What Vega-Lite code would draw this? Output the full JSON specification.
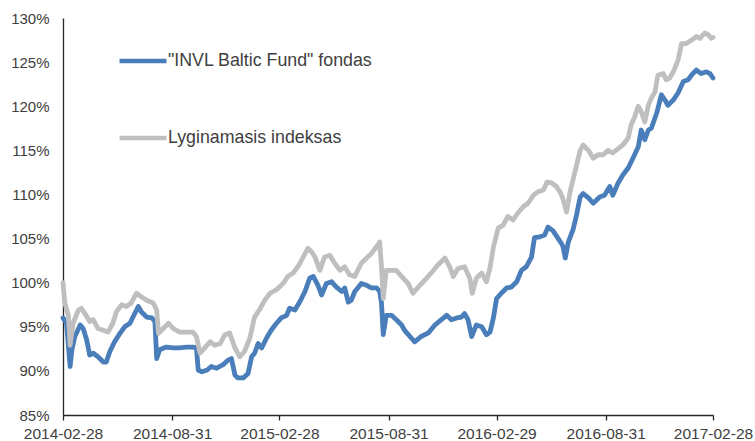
{
  "$schema": "https://vega.github.io/schema/vega-lite/v6.json",
  "width": 650,
  "height": 397,
  "autosize": "none",
  "padding": {"left": 63, "top": 18, "right": 42, "bottom": 26},
  "background": "white",
  "config": {
    "view": {"stroke": null},
    "font": "Liberation Sans"
  },
  "data": {"values": [
{"series":"fund","date":"2014-02-28","value":96.0},{"series":"fund","date":"2014-03-06","value":95.4},{"series":"fund","date":"2014-03-12","value":90.5},{"series":"fund","date":"2014-03-15","value":92.4},{"series":"fund","date":"2014-03-20","value":93.9},{"series":"fund","date":"2014-03-29","value":95.2},{"series":"fund","date":"2014-04-03","value":94.8},{"series":"fund","date":"2014-04-09","value":93.5},{"series":"fund","date":"2014-04-14","value":91.8},{"series":"fund","date":"2014-04-20","value":92.0},{"series":"fund","date":"2014-04-28","value":91.6},{"series":"fund","date":"2014-05-07","value":91.0},{"series":"fund","date":"2014-05-12","value":91.0},{"series":"fund","date":"2014-05-18","value":92.2},{"series":"fund","date":"2014-05-26","value":93.3},{"series":"fund","date":"2014-06-04","value":94.25},{"series":"fund","date":"2014-06-12","value":95.0},{"series":"fund","date":"2014-06-21","value":95.4},{"series":"fund","date":"2014-06-26","value":96.1},{"series":"fund","date":"2014-07-05","value":97.3},{"series":"fund","date":"2014-07-10","value":96.7},{"series":"fund","date":"2014-07-19","value":96.1},{"series":"fund","date":"2014-07-28","value":96.0},{"series":"fund","date":"2014-08-02","value":95.6},{"series":"fund","date":"2014-08-05","value":91.4},{"series":"fund","date":"2014-08-10","value":92.4},{"series":"fund","date":"2014-08-21","value":92.7},{"series":"fund","date":"2014-09-02","value":92.6},{"series":"fund","date":"2014-09-13","value":92.6},{"series":"fund","date":"2014-09-24","value":92.7},{"series":"fund","date":"2014-10-05","value":92.7},{"series":"fund","date":"2014-10-11","value":92.6},{"series":"fund","date":"2014-10-14","value":90.1},{"series":"fund","date":"2014-10-20","value":89.9},{"series":"fund","date":"2014-10-29","value":90.1},{"series":"fund","date":"2014-11-05","value":90.5},{"series":"fund","date":"2014-11-14","value":90.3},{"series":"fund","date":"2014-11-25","value":90.7},{"series":"fund","date":"2014-12-03","value":91.2},{"series":"fund","date":"2014-12-09","value":91.4},{"series":"fund","date":"2014-12-15","value":89.5},{"series":"fund","date":"2014-12-20","value":89.2},{"series":"fund","date":"2014-12-29","value":89.2},{"series":"fund","date":"2015-01-06","value":89.7},{"series":"fund","date":"2015-01-12","value":91.6},{"series":"fund","date":"2015-01-17","value":92.0},{"series":"fund","date":"2015-01-23","value":93.1},{"series":"fund","date":"2015-01-29","value":92.6},{"series":"fund","date":"2015-02-06","value":93.7},{"series":"fund","date":"2015-02-14","value":94.6},{"series":"fund","date":"2015-02-23","value":95.4},{"series":"fund","date":"2015-03-03","value":96.0},{"series":"fund","date":"2015-03-12","value":96.3},{"series":"fund","date":"2015-03-17","value":97.1},{"series":"fund","date":"2015-03-26","value":96.9},{"series":"fund","date":"2015-04-03","value":97.8},{"series":"fund","date":"2015-04-12","value":99.0},{"series":"fund","date":"2015-04-20","value":100.5},{"series":"fund","date":"2015-04-26","value":100.7},{"series":"fund","date":"2015-05-04","value":99.7},{"series":"fund","date":"2015-05-10","value":98.6},{"series":"fund","date":"2015-05-18","value":99.9},{"series":"fund","date":"2015-05-27","value":100.1},{"series":"fund","date":"2015-06-04","value":99.5},{"series":"fund","date":"2015-06-13","value":99.0},{"series":"fund","date":"2015-06-18","value":99.4},{"series":"fund","date":"2015-06-24","value":97.8},{"series":"fund","date":"2015-06-29","value":98.0},{"series":"fund","date":"2015-07-05","value":99.0},{"series":"fund","date":"2015-07-10","value":99.4},{"series":"fund","date":"2015-07-16","value":99.9},{"series":"fund","date":"2015-07-25","value":99.7},{"series":"fund","date":"2015-08-02","value":99.4},{"series":"fund","date":"2015-08-11","value":99.4},{"series":"fund","date":"2015-08-16","value":99.0},{"series":"fund","date":"2015-08-19","value":97.7},{"series":"fund","date":"2015-08-22","value":94.1},{"series":"fund","date":"2015-08-27","value":96.3},{"series":"fund","date":"2015-09-05","value":96.3},{"series":"fund","date":"2015-09-13","value":95.8},{"series":"fund","date":"2015-09-22","value":95.2},{"series":"fund","date":"2015-09-27","value":94.6},{"series":"fund","date":"2015-10-06","value":93.9},{"series":"fund","date":"2015-10-14","value":93.3},{"series":"fund","date":"2015-10-25","value":93.9},{"series":"fund","date":"2015-11-06","value":94.3},{"series":"fund","date":"2015-11-17","value":95.2},{"series":"fund","date":"2015-11-28","value":95.8},{"series":"fund","date":"2015-12-07","value":96.3},{"series":"fund","date":"2015-12-15","value":95.8},{"series":"fund","date":"2015-12-24","value":96.0},{"series":"fund","date":"2016-01-01","value":96.1},{"series":"fund","date":"2016-01-06","value":96.5},{"series":"fund","date":"2016-01-12","value":95.8},{"series":"fund","date":"2016-01-18","value":93.9},{"series":"fund","date":"2016-01-26","value":95.2},{"series":"fund","date":"2016-02-04","value":95.0},{"series":"fund","date":"2016-02-12","value":94.1},{"series":"fund","date":"2016-02-18","value":94.4},{"series":"fund","date":"2016-02-24","value":96.1},{"series":"fund","date":"2016-02-29","value":98.2},{"series":"fund","date":"2016-03-08","value":98.8},{"series":"fund","date":"2016-03-17","value":99.4},{"series":"fund","date":"2016-03-25","value":99.5},{"series":"fund","date":"2016-04-03","value":100.1},{"series":"fund","date":"2016-04-11","value":101.4},{"series":"fund","date":"2016-04-19","value":101.8},{"series":"fund","date":"2016-04-28","value":102.9},{"series":"fund","date":"2016-05-03","value":105.1},{"series":"fund","date":"2016-05-12","value":105.2},{"series":"fund","date":"2016-05-20","value":105.4},{"series":"fund","date":"2016-05-26","value":106.3},{"series":"fund","date":"2016-06-03","value":105.9},{"series":"fund","date":"2016-06-12","value":105.0},{"series":"fund","date":"2016-06-17","value":104.5},{"series":"fund","date":"2016-06-20","value":104.1},{"series":"fund","date":"2016-06-24","value":102.8},{"series":"fund","date":"2016-06-29","value":104.6},{"series":"fund","date":"2016-07-07","value":106.0},{"series":"fund","date":"2016-07-13","value":107.7},{"series":"fund","date":"2016-07-19","value":109.7},{"series":"fund","date":"2016-07-24","value":110.1},{"series":"fund","date":"2016-08-02","value":109.6},{"series":"fund","date":"2016-08-10","value":109.0},{"series":"fund","date":"2016-08-21","value":109.7},{"series":"fund","date":"2016-08-29","value":109.9},{"series":"fund","date":"2016-09-07","value":110.9},{"series":"fund","date":"2016-09-12","value":109.9},{"series":"fund","date":"2016-09-21","value":111.3},{"series":"fund","date":"2016-09-29","value":112.2},{"series":"fund","date":"2016-10-08","value":113.0},{"series":"fund","date":"2016-10-16","value":114.1},{"series":"fund","date":"2016-10-25","value":115.4},{"series":"fund","date":"2016-10-30","value":117.3},{"series":"fund","date":"2016-11-05","value":116.2},{"series":"fund","date":"2016-11-11","value":117.3},{"series":"fund","date":"2016-11-16","value":117.5},{"series":"fund","date":"2016-11-25","value":119.2},{"series":"fund","date":"2016-12-03","value":121.3},{"series":"fund","date":"2016-12-09","value":120.7},{"series":"fund","date":"2016-12-14","value":120.1},{"series":"fund","date":"2016-12-23","value":120.7},{"series":"fund","date":"2016-12-31","value":121.5},{"series":"fund","date":"2017-01-09","value":122.8},{"series":"fund","date":"2017-01-17","value":123.0},{"series":"fund","date":"2017-01-25","value":123.7},{"series":"fund","date":"2017-01-31","value":124.1},{"series":"fund","date":"2017-02-08","value":123.7},{"series":"fund","date":"2017-02-17","value":123.9},{"series":"fund","date":"2017-02-23","value":123.7},{"series":"fund","date":"2017-02-28","value":123.2},
{"series":"index","date":"2014-02-28","value":100.0},{"series":"index","date":"2014-03-03","value":97.7},{"series":"index","date":"2014-03-09","value":96.3},{"series":"index","date":"2014-03-12","value":92.9},{"series":"index","date":"2014-03-17","value":95.4},{"series":"index","date":"2014-03-26","value":96.9},{"series":"index","date":"2014-03-31","value":97.1},{"series":"index","date":"2014-04-06","value":96.5},{"series":"index","date":"2014-04-14","value":95.6},{"series":"index","date":"2014-04-20","value":95.8},{"series":"index","date":"2014-04-28","value":94.8},{"series":"index","date":"2014-05-07","value":94.6},{"series":"index","date":"2014-05-15","value":94.4},{"series":"index","date":"2014-05-23","value":95.4},{"series":"index","date":"2014-05-29","value":96.7},{"series":"index","date":"2014-06-07","value":97.5},{"series":"index","date":"2014-06-15","value":97.3},{"series":"index","date":"2014-06-23","value":97.7},{"series":"index","date":"2014-07-02","value":98.8},{"series":"index","date":"2014-07-10","value":98.4},{"series":"index","date":"2014-07-19","value":98.0},{"series":"index","date":"2014-07-30","value":97.7},{"series":"index","date":"2014-08-05","value":96.9},{"series":"index","date":"2014-08-08","value":94.25},{"series":"index","date":"2014-08-16","value":94.8},{"series":"index","date":"2014-08-25","value":95.4},{"series":"index","date":"2014-09-02","value":94.8},{"series":"index","date":"2014-09-13","value":94.4},{"series":"index","date":"2014-09-24","value":94.4},{"series":"index","date":"2014-10-05","value":94.4},{"series":"index","date":"2014-10-11","value":93.9},{"series":"index","date":"2014-10-17","value":92.0},{"series":"index","date":"2014-10-26","value":92.7},{"series":"index","date":"2014-11-03","value":93.3},{"series":"index","date":"2014-11-11","value":92.9},{"series":"index","date":"2014-11-20","value":93.1},{"series":"index","date":"2014-11-28","value":94.1},{"series":"index","date":"2014-12-06","value":94.3},{"series":"index","date":"2014-12-15","value":92.6},{"series":"index","date":"2014-12-23","value":91.6},{"series":"index","date":"2014-12-31","value":92.2},{"series":"index","date":"2015-01-09","value":93.7},{"series":"index","date":"2015-01-17","value":96.1},{"series":"index","date":"2015-01-25","value":96.9},{"series":"index","date":"2015-02-03","value":98.0},{"series":"index","date":"2015-02-12","value":98.8},{"series":"index","date":"2015-02-23","value":99.2},{"series":"index","date":"2015-03-06","value":99.9},{"series":"index","date":"2015-03-14","value":100.7},{"series":"index","date":"2015-03-23","value":101.1},{"series":"index","date":"2015-03-31","value":101.8},{"series":"index","date":"2015-04-09","value":102.9},{"series":"index","date":"2015-04-17","value":103.9},{"series":"index","date":"2015-04-23","value":103.5},{"series":"index","date":"2015-04-29","value":102.9},{"series":"index","date":"2015-05-07","value":101.4},{"series":"index","date":"2015-05-15","value":102.9},{"series":"index","date":"2015-05-24","value":103.1},{"series":"index","date":"2015-06-01","value":102.2},{"series":"index","date":"2015-06-10","value":101.4},{"series":"index","date":"2015-06-18","value":101.8},{"series":"index","date":"2015-06-26","value":100.9},{"series":"index","date":"2015-07-05","value":100.7},{"series":"index","date":"2015-07-10","value":101.4},{"series":"index","date":"2015-07-16","value":102.2},{"series":"index","date":"2015-07-25","value":102.8},{"series":"index","date":"2015-08-02","value":103.3},{"series":"index","date":"2015-08-11","value":104.1},{"series":"index","date":"2015-08-16","value":104.6},{"series":"index","date":"2015-08-19","value":101.8},{"series":"index","date":"2015-08-22","value":98.2},{"series":"index","date":"2015-08-27","value":101.4},{"series":"index","date":"2015-09-05","value":101.4},{"series":"index","date":"2015-09-13","value":101.4},{"series":"index","date":"2015-09-22","value":100.7},{"series":"index","date":"2015-10-03","value":99.9},{"series":"index","date":"2015-10-11","value":98.8},{"series":"index","date":"2015-10-20","value":99.5},{"series":"index","date":"2015-10-31","value":100.3},{"series":"index","date":"2015-11-11","value":101.1},{"series":"index","date":"2015-11-22","value":102.0},{"series":"index","date":"2015-12-04","value":102.8},{"series":"index","date":"2015-12-12","value":101.8},{"series":"index","date":"2015-12-18","value":100.7},{"series":"index","date":"2015-12-26","value":101.6},{"series":"index","date":"2016-01-06","value":101.8},{"series":"index","date":"2016-01-15","value":100.5},{"series":"index","date":"2016-01-19","value":98.8},{"series":"index","date":"2016-01-26","value":100.5},{"series":"index","date":"2016-02-04","value":101.1},{"series":"index","date":"2016-02-12","value":100.1},{"series":"index","date":"2016-02-18","value":101.7},{"series":"index","date":"2016-02-24","value":104.1},{"series":"index","date":"2016-03-03","value":106.2},{"series":"index","date":"2016-03-11","value":106.5},{"series":"index","date":"2016-03-19","value":107.5},{"series":"index","date":"2016-03-28","value":107.1},{"series":"index","date":"2016-04-05","value":107.9},{"series":"index","date":"2016-04-14","value":108.6},{"series":"index","date":"2016-04-22","value":109.0},{"series":"index","date":"2016-05-01","value":109.9},{"series":"index","date":"2016-05-09","value":110.3},{"series":"index","date":"2016-05-18","value":110.5},{"series":"index","date":"2016-05-24","value":111.4},{"series":"index","date":"2016-06-01","value":111.3},{"series":"index","date":"2016-06-09","value":110.9},{"series":"index","date":"2016-06-15","value":110.3},{"series":"index","date":"2016-06-20","value":109.5},{"series":"index","date":"2016-06-26","value":108.0},{"series":"index","date":"2016-07-02","value":110.3},{"series":"index","date":"2016-07-10","value":112.5},{"series":"index","date":"2016-07-19","value":115.0},{"series":"index","date":"2016-07-24","value":115.6},{"series":"index","date":"2016-08-02","value":115.0},{"series":"index","date":"2016-08-10","value":114.1},{"series":"index","date":"2016-08-18","value":114.5},{"series":"index","date":"2016-08-27","value":114.5},{"series":"index","date":"2016-09-04","value":115.0},{"series":"index","date":"2016-09-12","value":114.7},{"series":"index","date":"2016-09-21","value":115.2},{"series":"index","date":"2016-09-29","value":115.6},{"series":"index","date":"2016-10-08","value":116.4},{"series":"index","date":"2016-10-13","value":117.9},{"series":"index","date":"2016-10-19","value":118.8},{"series":"index","date":"2016-10-25","value":120.0},{"series":"index","date":"2016-10-30","value":119.4},{"series":"index","date":"2016-11-05","value":118.2},{"series":"index","date":"2016-11-11","value":120.1},{"series":"index","date":"2016-11-16","value":120.9},{"series":"index","date":"2016-11-22","value":121.6},{"series":"index","date":"2016-11-27","value":123.5},{"series":"index","date":"2016-12-06","value":123.7},{"series":"index","date":"2016-12-11","value":123.0},{"series":"index","date":"2016-12-17","value":123.2},{"series":"index","date":"2016-12-23","value":123.9},{"series":"index","date":"2016-12-31","value":125.2},{"series":"index","date":"2017-01-06","value":127.1},{"series":"index","date":"2017-01-14","value":127.1},{"series":"index","date":"2017-01-23","value":127.5},{"series":"index","date":"2017-01-31","value":127.9},{"series":"index","date":"2017-02-06","value":127.7},{"series":"index","date":"2017-02-14","value":128.3},{"series":"index","date":"2017-02-20","value":128.1},{"series":"index","date":"2017-02-25","value":127.7},{"series":"index","date":"2017-02-28","value":127.8}
  ]},
  "encoding": {
    "x": {
      "field": "date", "type": "temporal", "title": null,
      "scale": {"type": "utc", "domain": [{"year": 2014, "month": 2, "date": 28, "utc": true}, {"year": 2017, "month": 2, "date": 28, "utc": true}], "nice": false},
      "axis": {
        "values": [
          {"year": 2014, "month": 2, "date": 28, "utc": true},
          {"year": 2014, "month": 8, "date": 31, "utc": true},
          {"year": 2015, "month": 2, "date": 28, "utc": true},
          {"year": 2015, "month": 8, "date": 31, "utc": true},
          {"year": 2016, "month": 2, "date": 29, "utc": true},
          {"year": 2016, "month": 8, "date": 31, "utc": true},
          {"year": 2017, "month": 2, "date": 28, "utc": true}
        ],
        "labelExpr": "utcFormat(datum.value, '%Y-%m-%d')",
        "grid": false, "domainColor": "#262626", "domainWidth": 1.3, "tickColor": "#262626", "tickWidth": 1.3, "tickSize": 5,
        "labelFontSize": 15.5, "labelColor": "#404040", "labelPadding": 6, "labelFlush": false, "labelOverlap": false
      }
    },
    "y": {
      "field": "value", "type": "quantitative", "title": null,
      "scale": {"domain": [85, 130], "nice": false, "zero": false},
      "axis": {
        "values": [85, 90, 95, 100, 105, 110, 115, 120, 125, 130],
        "labelExpr": "datum.value + '%'",
        "grid": false, "ticks": false, "domainColor": "#262626", "domainWidth": 1.3,
        "labelFontSize": 15, "labelColor": "#404040", "labelPadding": 14, "labelFlush": false
      }
    },
    "color": {
      "field": "series", "type": "nominal",
      "scale": {"domain": ["fund", "index"], "range": ["#4A7EBB", "#BFBFBF"]},
      "legend": {
        "title": null, "orient": "none", "legendX": 54, "legendY": 17,
        "labelExpr": "datum.value == 'fund' ? '\"INVL Baltic Fund\" fondas' : 'Lyginamasis indeksas'",
        "symbolType": "stroke", "symbolSize": 2200, "symbolStrokeWidth": 4.5,
        "labelFontSize": 17.8, "labelColor": "#404040", "labelOffset": -1, "labelLimit": 0,
        "rowPadding": 42, "padding": 0
      }
    }
  },
  "layer": [
    {
      "transform": [{"filter": "datum.series == 'fund'"}],
      "mark": {"type": "line", "strokeWidth": 4.8, "strokeJoin": "round", "strokeCap": "round"}
    },
    {
      "transform": [{"filter": "datum.series == 'index'"}],
      "mark": {"type": "line", "strokeWidth": 4.8, "strokeJoin": "round", "strokeCap": "round"}
    }
  ]
}
